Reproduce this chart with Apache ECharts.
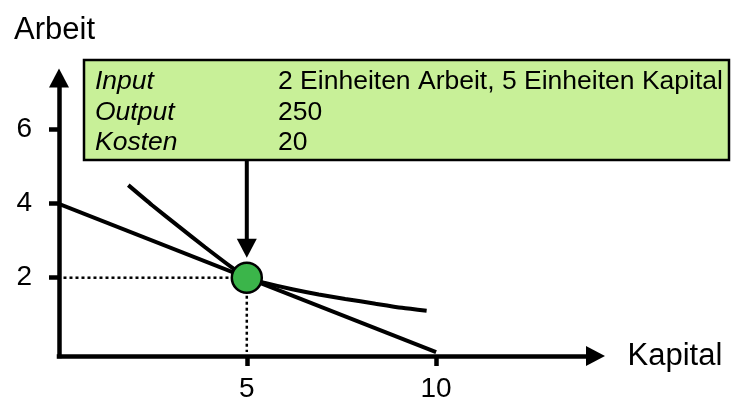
<!DOCTYPE html>
<html>
<head>
<meta charset="utf-8">
<script src="https://cdn.jsdelivr.net/npm/echarts@6/dist/echarts.min.js"></script>
<style>
  html, body { margin: 0; padding: 0; background: #fff; }
  #main { width: 732px; height: 403px; }
</style>
</head>
<body>
<div id="main"></div>
<script>
// Werte
var xTicks = [5, 10];
var yTicks = [2, 4, 6];
var budgetLine = [[0, 4], [10, 0]];
var isoquant = [
  [1.87, 4.49], [2.5, 3.95], [3.2, 3.38], [3.9, 2.82], [4.64, 2.25], [5, 2],
  [5.48, 1.86], [6.2, 1.69], [6.9, 1.55], [7.6, 1.43], [8.4, 1.3], [9.1, 1.19], [9.75, 1.11]
];
var optimum = [5, 2];
var infoLabels = ['Input', 'Output', 'Kosten'];
var infoValues = ['2 Einheiten Arbeit, 5 Einheiten Kapital', '250', '20'];

var FONT = '"Liberation Sans", Arial, sans-serif';
var myChart = echarts.init(document.getElementById('main'));

var axisLine = {
  show: true,
  onZero: false,
  symbol: ['none', 'triangle'],
  symbolSize: [20, 19],
  lineStyle: { color: '#000', width: 4.5, cap: 'square' }
};

var option = {
  animation: false,
  backgroundColor: '#fff',
  grid: { left: 59, top: 78, width: 536.5, height: 283.7 },
  xAxis: {
    type: 'value',
    min: 0.04,
    max: 14.21,
    name: 'Kapital',
    nameLocation: 'end',
    nameGap: 32,
    nameTextStyle: { color: '#000', fontSize: 31, fontFamily: FONT, padding: [10, 0, 0, 0] },
    axisLine: axisLine,
    axisTick: { show: true, length: 10, customValues: xTicks, lineStyle: { color: '#000', width: 4.5 } },
    axisLabel: { customValues: xTicks, color: '#000', fontSize: 28, fontFamily: FONT, margin: 19 },
    splitLine: { show: false }
  },
  yAxis: {
    type: 'value',
    min: -0.105,
    max: 7.37,
    name: 'Arbeit',
    nameLocation: 'end',
    nameGap: 32,
    nameTextStyle: { color: '#000', fontSize: 31, fontFamily: FONT, align: 'center', padding: [0, 9, 0, 0] },
    axisLine: axisLine,
    axisTick: { show: true, length: 10, customValues: yTicks, lineStyle: { color: '#000', width: 4.5 } },
    axisLabel: { customValues: yTicks, color: '#000', fontSize: 28, fontFamily: FONT, margin: 27 },
    splitLine: { show: false }
  },
  series: [
    {
      type: 'line',
      data: [[0, optimum[1]], optimum],
      symbol: 'none',
      lineStyle: { color: '#000', width: 2.5, type: [3, 3] },
      z: 2
    },
    {
      type: 'line',
      data: [optimum, [optimum[0], 0]],
      symbol: 'none',
      lineStyle: { color: '#000', width: 2.5, type: [3, 3] },
      z: 2
    },
    {
      type: 'line',
      data: budgetLine,
      symbol: 'none',
      lineStyle: { color: '#000', width: 4 },
      z: 3
    },
    {
      type: 'line',
      data: isoquant,
      symbol: 'none',
      smooth: 0.2,
      lineStyle: { color: '#000', width: 4 },
      z: 3
    },
    {
      type: 'scatter',
      data: [optimum],
      symbol: 'circle',
      symbolSize: 30,
      itemStyle: { color: '#3bb54a', borderColor: '#000', borderWidth: 2.5, opacity: 1 },
      z: 5
    }
  ]
};
myChart.setOption(option);

// Infobox mit Pfeil auf den Optimalpunkt
var p = myChart.convertToPixel({ gridIndex: 0 }, optimum);
var boxTop = 60, boxBottom = 160, tipY = p[1] - 20;
var graphics = [
  {
    type: 'rect',
    shape: { x: 84, y: boxTop, width: 645, height: boxBottom - boxTop },
    style: { fill: '#c8f098', stroke: '#000', lineWidth: 2.5 },
    z: 10
  },
  {
    type: 'line',
    shape: { x1: p[0], y1: boxBottom, x2: p[0], y2: tipY - 15 },
    style: { stroke: '#000', lineWidth: 4 },
    z: 10
  },
  {
    type: 'polygon',
    shape: { points: [[p[0] - 10, tipY - 19], [p[0] + 10, tipY - 19], [p[0], tipY]] },
    style: { fill: '#000' },
    z: 10
  }
];
infoLabels.forEach(function (t, i) {
  var y = 82 + i * 30.5;
  graphics.push({
    type: 'text',
    style: { text: t, x: 95, y: y, fill: '#000', font: 'italic 26.5px ' + FONT, verticalAlign: 'middle' },
    z: 11
  });
  graphics.push({
    type: 'text',
    style: { text: infoValues[i], x: 278, y: y, fill: '#000', font: '26.5px ' + FONT, verticalAlign: 'middle' },
    z: 11
  });
});
myChart.setOption({ graphic: graphics });
</script>
</body>
</html>
